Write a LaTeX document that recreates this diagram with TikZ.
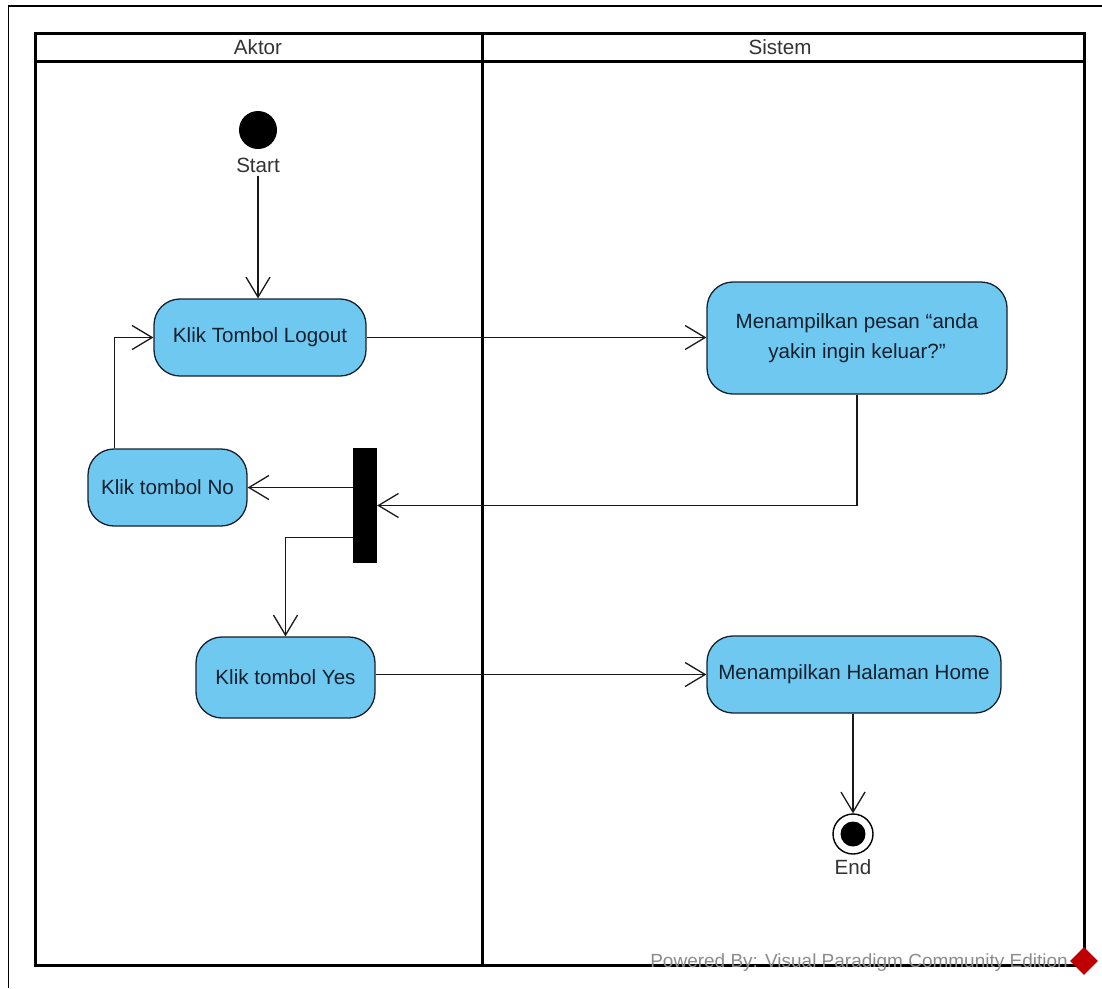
\documentclass[tikz,border=0pt]{standalone}
\usepackage{fontspec}
\setmainfont{Liberation Sans}
\usetikzlibrary{arrows.meta,positioning,calc,shapes.geometric}
\definecolor{actfill}{HTML}{6FC8F0}
\definecolor{acttext}{HTML}{15202E}
\tikzset{
  x=1pt,y=-1pt,
  activity/.style={draw=acttext,line width=1.3pt,fill=actfill,rounded corners=26pt,align=center,
    inner sep=0pt,font=\fontsize{20.6}{30}\selectfont,text=acttext},
  flow/.style={draw=black!90,line width=1.3pt,-{Straight Barb[length=20pt,width=24pt,line width=1.3pt]}},
  lane/.style={draw=black,line width=3pt},
  lbl/.style={font=\fontsize{20.6}{24}\selectfont,text=black!80,inner sep=0pt},
}
\begin{document}
\begin{tikzpicture}
\useasboundingbox (0,0) rectangle (1102,988);
\fill[white] (0,0) rectangle (1102,988);
% outer frame
\draw[black,line width=1.3pt] (8.5,988) -- (8.5,6) -- (1102,6);
% swimlanes
\draw[lane] (35,33) rectangle (1084,965);
\draw[lane] (35,61) -- (1084,61);
\draw[lane] (482,33) -- (482,965);
\node[lbl] (aktor) at (258,47) {Aktor};
\node[lbl] (sistem) at (780,47) {Sistem};
% nodes
\node[circle,fill=black,minimum size=38pt,inner sep=0pt] (start) at (258,130) {};
\node[lbl] (startl) at (258,165) {Start};
\node[activity,minimum width=212pt,minimum height=77pt] (logout) at (260,337.5) {Klik Tombol Logout};
\node[activity,minimum width=300pt,minimum height=112pt] (pesan) at (857,338) {Menampilkan pesan “anda\\yakin ingin keluar?”};
\node[activity,minimum width=159pt,minimum height=77pt] (no) at (167.5,487.5) {Klik tombol No};
\node[fill=black,minimum width=24pt,minimum height=115pt,inner sep=0pt] (bar) at (365,505.5) {};
\node[activity,minimum width=179pt,minimum height=81pt] (yes) at (285.5,677.5) {Klik tombol Yes};
\node[activity,minimum width=294pt,minimum height=77pt] (home) at (854,674.5) {Menampilkan Halaman Home};
\node[circle,draw=black,line width=1.4pt,fill=white,minimum size=40pt,inner sep=0pt] (end) at (853,834) {};
\node[circle,fill=black,minimum size=25pt,inner sep=0pt] (endin) at (853,834) {};
\node[lbl] (endl) at (853,867) {End};
% connectors
\coordinate (s1) at ($(startl.south)+(0,4)$);
\draw[flow] (s1) -- (s1 |- logout.north);
\draw[flow] (logout.east) -- (logout.east -| pesan.west);
\draw[flow] (pesan.south) |- (bar.east);
\draw[flow] (bar.west |- no.east) -- (no.east);
\coordinate (n1) at ($(no.north west)+(27,0)$);
\draw[flow] (n1) |- (logout.west);
\coordinate (b1) at ($(bar.west)+(0,32)$);
\draw[flow] (b1) -| (yes.north);
\coordinate (y1) at (yes.east |- home.west);
\draw[flow] (y1) -- (home.west);
\draw[flow] (end.north |- home.south) -- (end.north);
% watermark
\node[font=\fontsize{19}{22}\selectfont,text=black!45,inner sep=0pt,anchor=east] (wm) at (1068,963) {Powered By: Visual Paradigm Community Edition};
\node[diamond,fill=red!75!black,minimum size=28pt,inner sep=0pt] (logo) at (1084,961) {};
\end{tikzpicture}
\end{document}
